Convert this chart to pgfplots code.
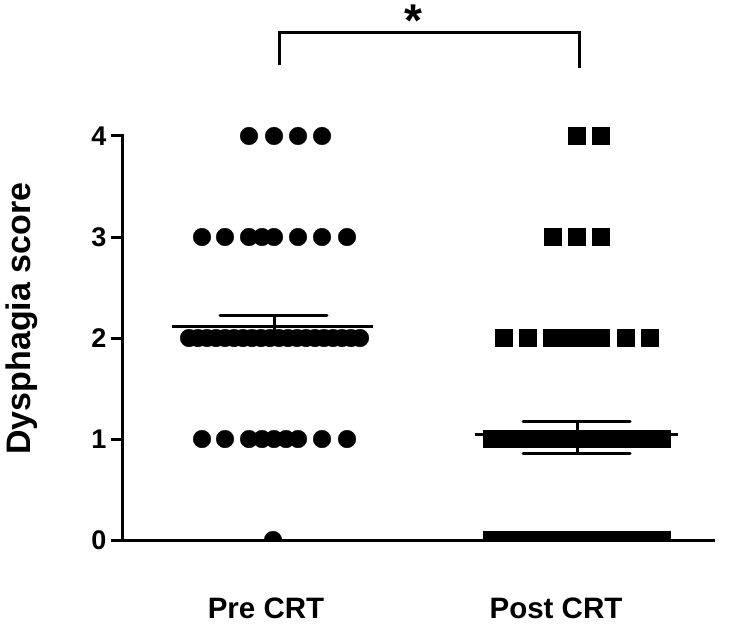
\documentclass[border=0pt]{standalone}
\usepackage{fontspec}
\setmainfont{Liberation Sans}
\usepackage{pgfplots}
\pgfplotsset{compat=1.18}
\begin{document}
\begin{tikzpicture}
\useasboundingbox (-122pt,-85pt) rectangle (608pt,540pt);
\begin{axis}[
  at={(0pt,0pt)}, anchor=south west,
  scale only axis, width=593pt, height=540pt,
  xmin=122, xmax=715, ymin=0, ymax=5.3465,
  axis x line*=bottom, axis y line*=left,
  y axis line style={draw=none},
  x axis line style={line width=3pt, -},
  ytick={0,1,2,3,4},
  tick align=outside, major tick length=11pt,
  ytick style={line width=3pt, black},
  yticklabel style={font=\bfseries\fontsize{27}{27}\selectfont, xshift=-1pt},
  xtick={266,556}, xticklabels={Pre CRT, Post CRT},
  xtick style={draw=none},
  xticklabel style={font=\bfseries\fontsize{29.5}{29.5}\selectfont, anchor=base, yshift=-67pt},
  ylabel={Dysphagia score},
  ylabel style={at={(axis description cs:-0.1686,0.41)}, anchor=center, font=\bfseries\fontsize{34}{34}\selectfont},
  /pgf/number format/assume math mode=true,
  clip=true, clip marker paths=true,
]
% Pre CRT
\addplot[only marks, mark=*, mark size=8.8pt, black] coordinates {
 (249,4) (274,4) (298,4) (322,4)
 (202,3) (225,3) (249,3) (262,3) (274,3) (298,3) (322,3) (347,3)
 (189,2) (198,2) (207,2) (216,2) (225,2) (234,2) (243,2) (252,2) (261,2) (270,2)
 (279,2) (288,2) (297,2) (306,2) (315,2) (324,2) (333,2) (342,2) (351,2) (360,2)
 (202,1) (225,1) (249,1) (262,1) (274,1) (286,1) (298,1) (322,1) (347,1)
 (273,0)
};
% Post CRT
\addplot[only marks, mark=square*, mark size=8.6pt, black] coordinates {
 (577,4) (601,4)
 (553,3) (577,3) (601,3)
 (504,2) (528,2) (552,2) (564,2) (577,2) (589,2) (601,2) (626,2) (650,2)
 (492,1) (504,1) (516,1) (528,1) (540,1) (552,1) (564,1) (576,1) (588,1) (600,1) (612,1) (624,1) (636,1) (648,1) (662,1)
 (492,0) (504,0) (516,0) (528,0) (540,0) (552,0) (564,0) (576,0) (588,0) (600,0) (612,0) (624,0) (636,0) (648,0) (662,0)
};
% mean and SEM, Pre
\addplot[black, line width=3pt] coordinates {(172,2.11) (373,2.11)};
\addplot[black, line width=3pt] coordinates {(274,2.00) (274,2.22)};
\addplot[black, line width=3pt, line cap=round] coordinates {(220,2.22) (327,2.22)};
% mean and SEM, Post
\addplot[black, line width=3pt] coordinates {(475,1.04) (678,1.04)};
\addplot[black, line width=3pt] coordinates {(577,0.86) (577,1.17)};
\addplot[black, line width=3pt, line cap=round] coordinates {(523,1.17) (630,1.17)};
\addplot[black, line width=3pt, line cap=round] coordinates {(523,0.86) (630,0.86)};
% significance bracket
\addplot[black, line width=3pt] coordinates {(279,4.70) (279,5.02) (579,5.02) (579,4.67)};
\coordinate (star) at (axis cs:413,4.99);
\coordinate (ybot) at (axis cs:122,0);
\coordinate (ytop) at (axis cs:122,4);
\end{axis}
\node[anchor=base, font=\bfseries\fontsize{46}{46}\selectfont, inner sep=0pt] at (star) {*};
\draw[line width=3pt] ([yshift=-1.5pt]ybot) -- ([yshift=1.5pt]ytop);
\end{tikzpicture}
\end{document}
